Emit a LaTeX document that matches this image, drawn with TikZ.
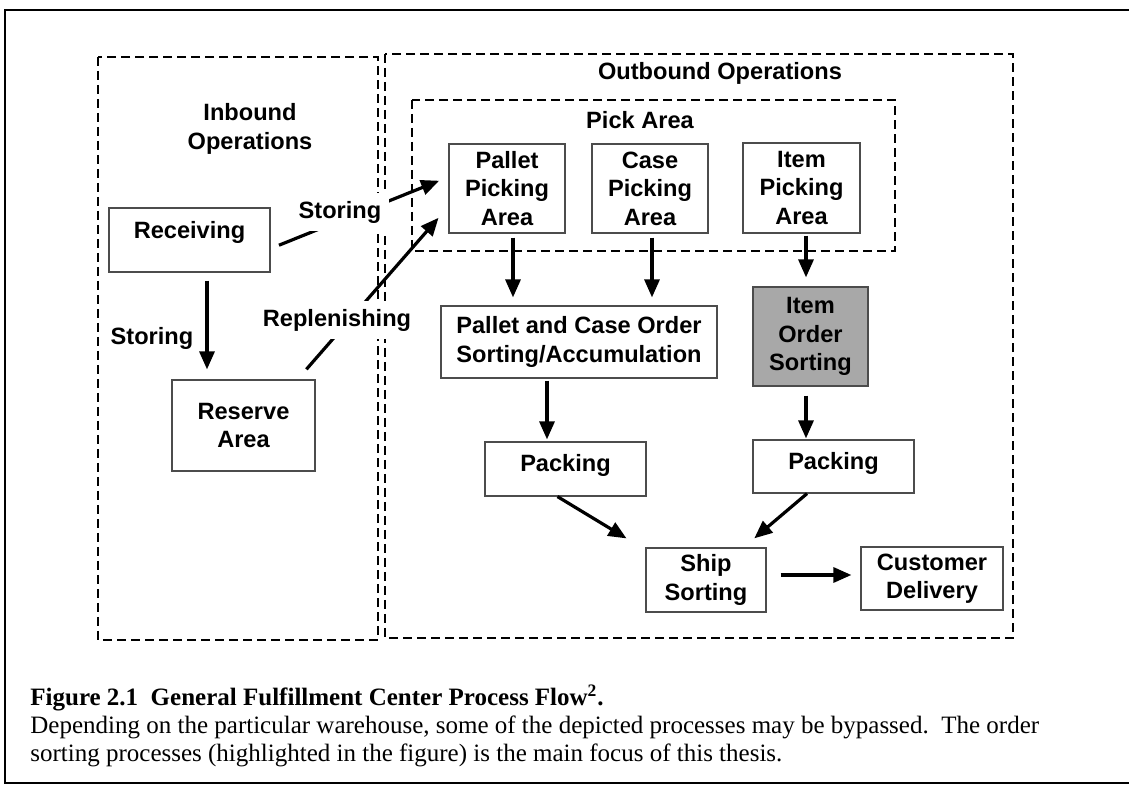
\documentclass[tikz,border=0pt]{standalone}
\usepackage{fontspec}
\setmainfont{Liberation Serif}
\setsansfont{Liberation Sans}
\usepackage{xcolor}
\usepackage{tikz}
\usetikzlibrary{arrows.meta,positioning}
\definecolor{hilite}{RGB}{168,168,168}

\begin{document}
\begin{tikzpicture}[x=0.5pt, y=-0.5pt, every node/.style={font=\sffamily\bfseries\fontsize{11.8}{14.2}\selectfont, align=center}]
  \tikzstyle{block} = [rectangle, draw=black!70, line width=0.6pt, inner sep=0pt]
  \tikzstyle{area} = [draw, line width=1.4pt, dash pattern=on 4.4pt off 2.6pt]
  \tikzstyle{line} = [draw, line width=1.6pt, -{Triangle[length=9pt,width=7.5pt]}]
  \tikzstyle{tag} = [fill=white, inner sep=4pt]
  \useasboundingbox (0,0) rectangle (1129,785);

  % Frame
  \draw[line width=1pt] (1129,10) -- (5,10) -- (5,783) -- (1129,783);

  % Areas
  \draw[area] (98,57) rectangle (378,640);
  \draw[area] (385,54) rectangle (1013,638);
  \draw[area] (412,100) rectangle (895,251);
  \node (inbound) at (250,129) {Inbound\\Operations};
  \node (outbound) at (720,73) {Outbound Operations};
  \node (pickarea) at (640,120) {Pick Area};

  % Inbound
  \node[block, minimum width=80.5pt, minimum height=32pt, text height=9pt, text depth=10.4pt] (recv) at (189.5,240) {Receiving};
  \node[block, minimum width=71.5pt, minimum height=45.5pt] (reserve) at (243.5,425.5) {Reserve\\Area};

  % Pick area
  \node[block, minimum width=58pt, minimum height=44.5pt] (pallet) at (507,188.5) {Pallet\\Picking\\Area};
  \node[block, minimum width=58pt, minimum height=44.5pt] (casep) at (650,188.5) {Case\\Picking\\Area};
  \node[block, minimum width=58.5pt, minimum height=45pt] (itemp) at (801.5,188) {Item\\Picking\\Area};

  % Outbound
  \node[block, minimum width=138pt, minimum height=36pt] (pco) at (579,342) {Pallet and Case Order\\Sorting/Accumulation};
  \node[block, fill=hilite, minimum width=57.5pt, minimum height=49.5pt] (itemsort) at (810.5,336.5) {Item\\Order\\Sorting};
  \node[block, minimum width=80.5pt, minimum height=27pt, text height=9pt, text depth=6.4pt] (pack1) at (565.5,469) {Packing};
  \node[block, minimum width=80.5pt, minimum height=26.5pt, text height=9pt, text depth=6.4pt] (pack2) at (833.5,466.5) {Packing};
  \node[block, minimum width=60pt, minimum height=32pt] (ship) at (706,580) {Ship\\Sorting};
  \node[block, minimum width=71pt, minimum height=31.5pt] (cust) at (932,578.5) {Customer\\Delivery};

  % Connections
  \draw[line, shorten <=4.5pt, shorten >=5pt] ([yshift=-4.3pt]recv.east) -- ([yshift=5.75pt]pallet.west);
  \draw[line, shorten <=4pt, shorten >=5pt] ([xshift=8.75pt]recv.south) -- ([xshift=8.75pt]recv.south |- reserve.north);
  \draw[line, shorten <=6.7pt, shorten >=7.5pt] ([xshift=-9pt]reserve.north east) -- ([yshift=-9pt]pallet.west);
  \draw[line, shorten <=2pt, shorten >=4pt] ([xshift=3pt]pallet.south) -- ([xshift=3pt]pallet.south |- pco.north);
  \draw[line, shorten <=2pt, shorten >=4pt] ([xshift=1pt]casep.south) -- ([xshift=1pt]casep.south |- pco.north);
  \draw[line, shorten <=1pt, shorten >=4.5pt] ([xshift=2.25pt]itemp.south) -- ([xshift=2.25pt]itemp.south |- itemsort.north);
  \draw[line, shorten <=1pt, shorten >=1pt] ([xshift=-9.25pt]pack1.north |- pco.south) -- ([xshift=-9.25pt]pack1.north);
  \draw[line, shorten <=4.5pt, shorten >=0.5pt] ([xshift=-2.25pt]itemsort.south) -- ([xshift=-2.25pt]itemsort.south |- pack2.north);
  \draw[line, shorten >=8.7pt] ([xshift=-4pt]pack1.south) -- ([xshift=-2pt]ship.north west);
  \draw[line, shorten >=7pt] ([xshift=-13.25pt]pack2.south) -- ([xshift=-11.5pt]ship.north east);
  \draw[line, shorten <=7pt, shorten >=4.5pt] ([yshift=2.5pt]ship.east) -- ([yshift=2.5pt]ship.east -| cust.west);

  % Flow labels
  \node[tag] (storing) at (340,212) {Storing};
  \node (storedown) at (152,338) {Storing};
  \node[tag] (replenish) at (337,320) {Replenishing};

  % Caption
  \node[anchor=north west, align=left, inner sep=0pt, font=\rmfamily\fontsize{12.5}{14}\selectfont] (caption) at (30,685) {\textbf{Figure 2.1\hspace{0.5em}General Fulfillment Center Process Flow\textsuperscript{2}.}\\Depending on the particular warehouse, some of the depicted processes may be bypassed.\ \ The order\\sorting processes (highlighted in the figure) is the main focus of this thesis.};
\end{tikzpicture}
\end{document}
